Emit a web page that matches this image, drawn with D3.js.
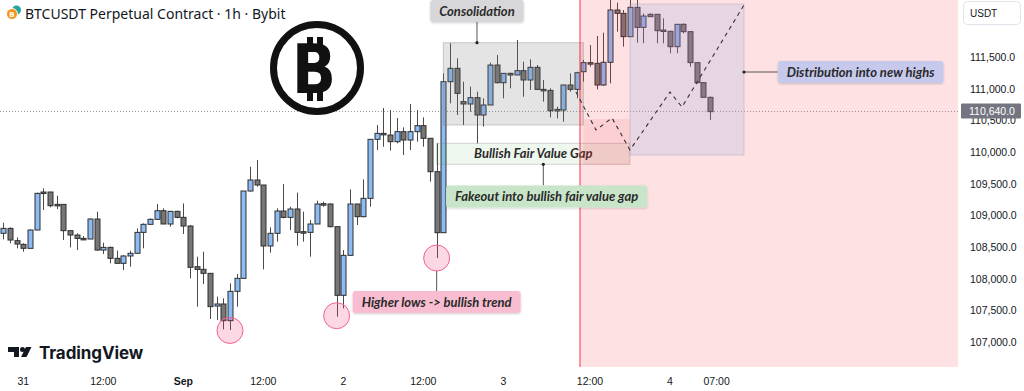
<!DOCTYPE html>
<html><head><meta charset="utf-8">
<script src="https://cdn.jsdelivr.net/npm/d3@7"></script>
<style>body{margin:0;background:#fff;overflow:hidden}svg{display:block}</style>
</head><body>
<svg id="c" width="1024" height="391"></svg>
<script>
// ---------- DATA (1h candles, BTCUSDT) ----------
const opens  = [108716,108794,108600,108542,108479,108768,109368,109368,109173,109173,108758,108689,108636,108626,108942,108452,108494,108321,108242,108358,108400,108731,108858,108937,109073,108863,109063,108968,108831,108189,108147,108084,107568,107600,107337,107800,108005,109384,109558,109479,108516,108716,109068,108968,109100,108742,108731,108863,109184,109179,108821,107737,108368,109179,108979,109268,110200,110294,110268,110163,110321,110189,110321,110416,110216,109689,108726,111110,111321,110795,110758,110858,110584,110742,111373,111094,111242,111216,111284,111137,111337,110989,110973,110652,110663,111058,110989,111268,111411,111400,111058,111416,112242,112189,111821,112284,111968,112174,112174,111926,111905,111663,112016,111900,111411,111095,110863];
const highs  = [108884,108810,108652,108558,108779,109358,109426,109373,109310,109173,108758,108716,108673,108952,109058,108568,108505,108442,108373,108442,108794,108873,108952,109179,109110,109063,109073,109189,108847,108347,108426,108084,107716,107689,107926,108073,109384,109768,109873,109479,108810,109110,109494,109137,109358,109058,108926,109231,109216,109189,108821,108452,109410,109179,109568,110200,110426,110695,110663,110537,110389,110758,110663,110547,110216,110137,111242,111716,111479,111110,111031,110952,110847,111410,111531,111242,111252,111768,111426,111463,111373,111137,111005,110716,111058,111242,111268,111453,111689,111832,111884,112450,112358,112242,112420,112420,112189,112189,112174,112110,111916,112016,112032,111900,111411,111095,110874];
const lows   = [108621,108558,108479,108426,108479,108768,109084,109126,109100,108610,108494,108452,108610,108626,108442,108389,108242,108242,108136,108189,108400,108479,108847,108926,108863,108821,108952,108705,108005,107558,107915,107363,107347,107200,107189,107558,108005,109373,109452,108147,108410,108584,108952,108768,108521,108584,108347,108863,109137,108810,107400,107531,108368,108847,108968,109137,110031,110084,110021,110137,109952,110031,110163,110084,109531,108326,108726,110768,110584,110426,110637,110137,110400,110742,111084,110847,111005,111216,110873,110979,110989,110795,110547,110531,110479,110952,110847,111111,111347,110989,111042,111084,111900,111663,111821,111726,111716,112137,111716,111716,111558,111558,111874,111347,111084,110863,110505];
const closes = [108794,108610,108547,108479,108768,109347,109347,109152,109163,108758,108689,108636,108626,108942,108452,108494,108321,108242,108358,108400,108731,108858,108937,109073,108863,109063,108968,108831,108179,108147,108084,107558,107600,107337,107800,108005,109384,109558,109479,108516,108716,109068,108968,109100,108731,108731,108863,109179,109173,108821,107737,108368,109179,108979,109268,110200,110294,110273,110163,110321,110189,110321,110416,110216,109689,108726,111110,111321,110926,110758,110858,110584,110742,111373,111094,111242,111216,111284,111137,111337,110989,110973,110652,110673,111058,110989,111252,111411,111400,111058,111416,112242,112189,111821,112284,111968,112147,112137,111916,111905,111663,112016,111900,111411,111095,110863,110637];

const priceTicks = [107000,107500,108000,108500,109000,109500,110000,110500,111000,111500];
const timeTickIdx    = [3, 15, 27, 39, 51, 63, 75, 88, 100, 107];
const timeTickLabels = ["31","12:00","Sep","12:00","2","12:00","3","12:00","4","07:00"];
const boldTicks = ["Sep"];
const lastPrice = 110640;

// annotation anchors in data units [candle index, price]
const consolBox  = [[66, 111726], [87, 110426]];
const fvgBox     = [[65, 110137], [94, 109806]];
const darkPink   = [[87, 110521], [94, 109795]];
const distBox    = [[94, 112337], [111.1, 109953]];
const redZoneStart = 86.5;
const lowCircles = [[34, 107182], [50, 107415], [65, 108326]];
const projection = [[85.9,110947],[88.9,110347],[91.3,110537],[94,110032],[100,110947],[101.8,110711],[111.1,112321]];
const labels = [
  {text:"Consolidation", at:[71.05, 112226], fill:"#d7d7d9", anchor:[71.05,111726]},
  {text:"Fakeout into bullish fair value gap", at:[81.5,109297], fill:"#c9e5c9", anchor:[81,109806]},
  {text:"Higher lows -> bullish trend", at:[65,107631], fill:"#f8bdd1", anchor:[65,108120]},
  {text:"Distribution into new highs", at:[128.6,111263], fill:"#c6c9ec", anchor:[111.1,111263]}
];

// ---------- SCALES ----------
const W = 958, H = 367;
const x = d3.scaleLinear().domain([0, 106]).range([3.3, 710]);
const y = d3.scaleLinear().domain([107000, 111500]).range([342, 57]);

const svg = d3.select("#c");
svg.append("defs").html(`
 <clipPath id="plot"><rect x="0" y="0" width="${W}" height="${H}"/></clipPath>
 <filter id="sh" x="-10%" y="-30%" width="120%" height="170%"><feDropShadow dx="0" dy="1" stdDeviation="1.2" flood-color="#000" flood-opacity="0.18"/></filter>`);

const plot = svg.append("g").attr("clip-path","url(#plot)");

// last price dotted line
plot.append("line").attr("x1",0).attr("x2",W).attr("y1",y(lastPrice)).attr("y2",y(lastPrice))
  .attr("stroke","#9598a1").attr("stroke-dasharray","1,2").attr("stroke-width",1);

// candles
const candles = opens.map((o,i)=>({i,o,h:highs[i],l:lows[i],c:closes[i]}));
const bw = 5;
const cg = plot.append("g");
cg.selectAll("line.w").data(candles).join("line").attr("class","w")
  .attr("x1",d=>Math.round(x(d.i))+0.5).attr("x2",d=>Math.round(x(d.i))+0.5)
  .attr("y1",d=>y(d.h)).attr("y2",d=>y(d.l)).attr("stroke","#4a4a4a").attr("stroke-width",1);
cg.selectAll("rect.b").data(candles).join("rect").attr("class","b")
  .attr("x",d=>Math.round(x(d.i))+0.5-bw/2).attr("width",bw)
  .attr("y",d=>y(Math.max(d.o,d.c))).attr("height",d=>Math.max(1.5,Math.abs(y(d.o)-y(d.c))))
  .attr("fill",d=>d.c>=d.o?"#8dbcf4":"#777777").attr("stroke","#2e2e2e").attr("stroke-width",1);

// consolidation box
const rectFrom=(b)=>({x:x(b[0][0]),y:y(b[0][1]),w:x(b[1][0])-x(b[0][0]),h:y(b[1][1])-y(b[0][1])});
let r=rectFrom(consolBox);
plot.append("rect").attr("x",r.x).attr("y",r.y).attr("width",r.w).attr("height",r.h)
  .attr("fill","rgba(120,120,120,0.2)").attr("stroke","rgba(120,120,120,0.35)");
// FVG box
r=rectFrom(fvgBox);
plot.append("rect").attr("x",r.x).attr("y",r.y).attr("width",r.w).attr("height",r.h)
  .attr("fill","rgba(76,175,80,0.09)").attr("stroke","rgba(120,120,120,0.3)");
plot.append("text").attr("x",r.x+r.w/2).attr("y",r.y+r.h/2+4.5).attr("text-anchor","middle")
  .attr("font-family","Lato, 'Open Sans', sans-serif").attr("font-style","italic").attr("font-weight","700")
  .attr("font-size",13).attr("fill","#2a2a2a").text("Bullish Fair Value Gap");

// red zone
plot.append("rect").attr("x",x(redZoneStart)).attr("y",0).attr("width",W-x(redZoneStart)).attr("height",H)
  .attr("fill","rgba(242,54,69,0.15)");
plot.append("line").attr("x1",x(redZoneStart)).attr("x2",x(redZoneStart)).attr("y1",0).attr("y2",H)
  .attr("stroke","#f23645").attr("stroke-width",1);
r=rectFrom(darkPink);
plot.append("rect").attr("x",r.x).attr("y",r.y).attr("width",r.w).attr("height",r.h)
  .attr("fill","rgba(242,54,69,0.1)");
r=rectFrom(distBox);
plot.append("rect").attr("x",r.x).attr("y",r.y).attr("width",r.w).attr("height",r.h)
  .attr("fill","rgba(148,164,236,0.2)").attr("stroke","rgba(150,150,170,0.35)");

// projection dashed
plot.append("path").attr("d",d3.line().x(d=>x(d[0])).y(d=>y(d[1]))(projection))
  .attr("fill","none").attr("stroke","#333").attr("stroke-width",1.1).attr("stroke-dasharray","4,4");

// circles
plot.selectAll("circle.low").data(lowCircles).join("circle").attr("class","low")
  .attr("cx",d=>x(d[0])).attr("cy",d=>y(d[1])).attr("r",13)
  .attr("fill","rgba(242,54,119,0.2)").attr("stroke","#f06292").attr("stroke-width",1);

// labels with connectors
const lg = plot.append("g");
labels.forEach((L,k)=>{
  const cx=x(L.at[0]), cy=y(L.at[1]);
  const g=lg.append("g");
  const t=g.append("text").attr("x",cx).attr("y",cy+4.5).attr("text-anchor","middle")
    .attr("font-family","Lato, 'Open Sans', sans-serif").attr("font-style","italic").attr("font-weight","700")
    .attr("font-size",13).attr("fill","#2a2a2a").text(L.text);
  const tw=t.node().getComputedTextLength();
  const bw2=tw+18, bh=22;
  const ax=x(L.anchor[0]), ay=y(L.anchor[1]);
  let x2,y2;
  if(Math.abs(ay-cy)<4){x2=cx-bw2/2;y2=ay;} else if(ay>cy){x2=ax;y2=cy+bh/2;} else {x2=ax;y2=cy-bh/2;}
  g.insert("line","text").attr("x1",ax).attr("y1",ay).attr("x2",x2).attr("y2",y2).attr("stroke","#555").attr("stroke-width",1);
  if(k!==2) g.insert("circle","text").attr("cx",ax).attr("cy",ay).attr("r",1.6).attr("fill","#222");
  g.insert("rect","text").attr("x",cx-bw2/2).attr("y",cy-bh/2).attr("width",bw2).attr("height",bh)
    .attr("rx",3).attr("fill",L.fill).attr("filter","url(#sh)");
});

// ---------- Bitcoin logo ----------
const logo = svg.append("g");
logo.append("circle").attr("cx",317).attr("cy",68).attr("r",43.5).attr("fill","#fff").attr("stroke","#111").attr("stroke-width",7);
[[307,37],[317,37],[307,92],[317,92]].forEach(p=>logo.append("rect").attr("x",p[0]).attr("y",p[1]).attr("width",6).attr("height",9).attr("fill","#111"));
logo.append("text").attr("x",314).attr("y",93).attr("text-anchor","middle").attr("font-family","'DejaVu Sans', sans-serif")
  .attr("font-weight","900").attr("font-size",68).attr("textLength",44).attr("lengthAdjust","spacingAndGlyphs").attr("fill","#111").text("B");

// ---------- title ----------
svg.append("circle").attr("cx",16.5).attr("cy",10).attr("r",4.5).attr("fill","#26a69a");
svg.append("circle").attr("cx",12).attr("cy",14).attr("r",5.5).attr("fill","#f7931a").attr("stroke","#fff").attr("stroke-width",1);
svg.append("text").attr("x",12).attr("y",17).attr("text-anchor","middle").attr("font-size",7).attr("font-weight","700")
  .attr("font-family","'DejaVu Sans',sans-serif").attr("fill","#fff").text("B");
svg.append("text").attr("x",25).attr("y",18.5).attr("font-family","'Noto Sans', sans-serif").attr("font-size",14)
  .attr("fill","#131722").text("BTCUSDT Perpetual Contract · 1h · Bybit");

// ---------- TradingView logo ----------
const tv = svg.append("g").attr("fill","#131722");
tv.append("path").attr("d","M8,347 H19 V357 H14 V352 H8 Z");
tv.append("circle").attr("cx",22.5).attr("cy",349.5).attr("r",2.5);
tv.append("path").attr("d","M26,347 H31.5 L26.5,357 H21 Z");
tv.append("text").attr("x",39).attr("y",359).attr("font-family","Inter, 'Noto Sans', sans-serif").attr("font-weight","700")
  .attr("font-size",17).attr("letter-spacing","-0.1").text("TradingView");

// ---------- right price axis ----------
const ax = svg.append("g").attr("transform",`translate(${W},0)`)
  .call(d3.axisRight(y).tickValues(priceTicks).tickSize(0).tickPadding(12).tickFormat(d3.format(",.1f")));
ax.select(".domain").remove();
ax.selectAll("text").attr("font-family","'Liberation Sans', Arial, sans-serif").attr("font-size",10.5).attr("fill","#131722");
// USDT box
svg.append("rect").attr("x",963.5).attr("y",1.5).attr("width",57).attr("height",23).attr("rx",4)
  .attr("fill","#fff").attr("stroke","#e0e3eb");
svg.append("text").attr("x",970).attr("y",17).attr("font-family","'Liberation Sans',Arial,sans-serif").attr("font-size",10)
  .attr("fill","#131722").text("USDT");
// last price tag (covers part of the 110,500.0 tick, as in the source)
svg.append("rect").attr("x",961).attr("y",y(lastPrice)-8).attr("width",60).attr("height",15).attr("rx",1).attr("fill","#737680");
svg.append("text").attr("x",969).attr("y",y(lastPrice)+3.5).attr("font-family","'Liberation Sans',Arial,sans-serif")
  .attr("font-size",10.5).attr("fill","#fff").text(d3.format(",.1f")(lastPrice));

// ---------- time axis ----------
svg.append("g").selectAll("text").data(timeTickIdx).join("text")
  .attr("x",d=>x(d)).attr("y",385).attr("text-anchor","middle")
  .attr("font-family","'Liberation Sans',Arial,sans-serif").attr("font-size",10.5).attr("fill","#131722")
  .attr("font-weight",(d,i)=>boldTicks.includes(timeTickLabels[i])?"700":"400")
  .text((d,i)=>timeTickLabels[i]);
</script>
</body></html>
